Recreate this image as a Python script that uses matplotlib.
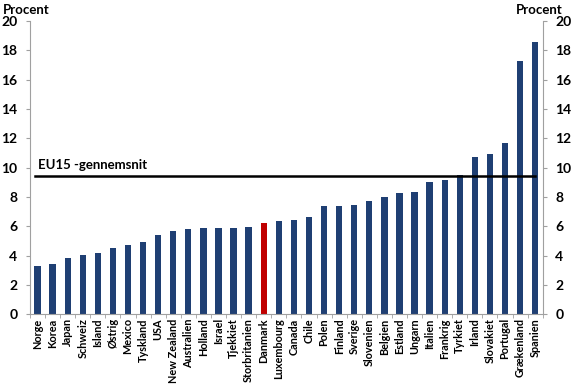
import matplotlib.pyplot as plt
import numpy as np

# Data
countries = [
    "Norge", "Korea", "Japan", "Schweiz", "Island", "Østrig", "Mexico",
    "Tyskland", "USA", "New Zealand", "Australien", "Holland", "Israel",
    "Tjekkiet", "Storbritanien", "Danmark", "Luxembourg", "Canada", "Chile",
    "Polen", "Finland", "Sverige", "Slovenien", "Belgien", "Estland", "Ungarn",
    "Italien", "Frankrig", "Tyrkiet", "Irland", "Slovakiet", "Portugal",
    "Grækenland", "Spanien",
]
values = [
    3.3, 3.45, 3.8, 4.05, 4.2, 4.5, 4.7, 4.9, 5.4, 5.65, 5.8, 5.85, 5.85,
    5.85, 5.95, 6.25, 6.35, 6.45, 6.6, 7.4, 7.4, 7.45, 7.75, 8.0, 8.25, 8.35,
    9.05, 9.15, 9.5, 10.7, 10.9, 11.65, 17.25, 18.55,
]
eu15_avg = 9.4
highlight = "Danmark"
yticks = [0, 2, 4, 6, 8, 10, 12, 14, 16, 18, 20]

plt.rcParams["font.family"] = ["Lato", "DejaVu Sans"]
plt.rcParams["font.weight"] = "bold"

fig = plt.figure(figsize=(5.71, 3.84), dpi=100)
ax = fig.add_axes([0.0525, 0.182, 0.898, 0.763])

x = np.arange(len(countries))
colors = ["#C00000" if c == highlight else "#1F3F73" for c in countries]
ax.bar(x, values, width=0.42, color=colors, zorder=2)

ax.plot([-0.15, len(countries) - 1], [eu15_avg, eu15_avg], color="black", lw=1.8, zorder=3)
ax.text(0.0, eu15_avg + 0.35, "EU15 -gennemsnit", fontsize=9.5, fontweight="bold", va="bottom", ha="left")

ax.set_xlim(-0.5, len(countries) - 0.5)
ax.set_ylim(0, 20)
ax.set_yticks(yticks)
ax.tick_params(axis="y", labelsize=10, length=3, color="#A0A0A0", labelleft=True, labelright=True, left=True, right=True, pad=6)
ax.set_xticks(x)
ax.set_xticklabels(countries, rotation=90, fontsize=7.8, fontweight="bold")
ax.tick_params(axis="x", length=0, pad=3)
ax.set_xticks(np.arange(-0.5, len(countries)), minor=True)
ax.tick_params(axis="x", which="minor", length=3, color="#A0A0A0")

for side in ["left", "right", "bottom"]:
    ax.spines[side].set_color("#A0A0A0")
    ax.spines[side].set_linewidth(0.8)
ax.spines["top"].set_visible(False)

fig.text(0.005, 0.975, "Procent", fontsize=9.5, fontweight="bold", va="center", ha="left")
fig.text(0.985, 0.975, "Procent", fontsize=9.5, fontweight="bold", va="center", ha="right")

fig.savefig("out.png", dpi=100)
